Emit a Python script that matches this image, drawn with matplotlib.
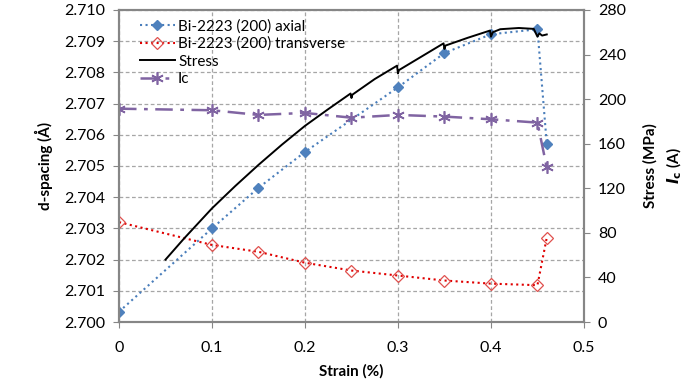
import matplotlib.pyplot as plt

plt.rcParams['font.family'] = ['Lato', 'DejaVu Sans']

# strain points for the diffraction / Ic data (%)
strain = [0, 0.1, 0.15, 0.2, 0.25, 0.3, 0.35, 0.4, 0.45, 0.46]
axial = [2.70033, 2.70300, 2.70430, 2.70545, None, 2.70752, 2.70862, 2.70922, 2.70938, 2.70571]
transverse = [2.70320, 2.70247, 2.70225, 2.70190, 2.70165, 2.70149, 2.70133, 2.70123, 2.70118, 2.70270]
ic = [191.4, 190.0, 185.8, 187.6, 183.3, 185.8, 184.3, 181.9, 178.9, 138.8]

# stress-strain curve (MPa)
stress_strain = [0.05, 0.07, 0.1, 0.125, 0.15, 0.175, 0.2, 0.225, 0.249, 0.25, 0.251, 0.275, 0.299,
                 0.3, 0.301, 0.325, 0.349, 0.35, 0.351, 0.375, 0.399, 0.4, 0.402, 0.41, 0.43,
                 0.446, 0.45, 0.452, 0.455, 0.46]
stress = [56, 75, 102, 122, 141, 159, 176, 191, 205, 201, 204, 218, 230,
          223, 226, 238, 250, 245, 248, 255, 261.5, 256, 260, 262.7, 263.8,
          263, 256, 259, 257, 258]

ax_strain = [s for s, a in zip(strain, axial) if a is not None]
ax_vals = [a for a in axial if a is not None]

gray = '#868686'

fig = plt.figure(figsize=(6.96, 3.82), dpi=100)
ax = fig.add_axes([0.171, 0.157, 0.668, 0.817])
ax2 = ax.twinx()

l1, = ax.plot(ax_strain, ax_vals, linestyle=':', color='#4A7EBB', lw=1.5,
              marker='D', ms=5, mfc='#4F81BD', mec='#4F81BD', label='Bi-2223 (200) axial')
l2, = ax.plot(strain, transverse, linestyle=':', color='#E00000', lw=1.5,
              marker='D', ms=6, mfc='none', mec='#E0504D', mew=0.9, label='Bi-2223 (200) transverse')
l3, = ax2.plot(stress_strain, stress, color='black', lw=1.4, label='Stress')
l4, = ax2.plot(strain, ic, color='#8064A2', lw=1.8, dashes=(7, 3, 1.5, 3),
               marker=(6, 2, 0), ms=9, mew=1.2, mec='#8064A2', label='Ic')

ax.set_xlim(0, 0.5)
ax.set_ylim(2.700, 2.710)
ax.set_xticks([0, 0.1, 0.2, 0.3, 0.4, 0.5])
ax.set_xticklabels(['0', '0.1', '0.2', '0.3', '0.4', '0.5'])
ax.set_yticks([2.700 + 0.001 * i for i in range(11)])
ax.set_yticklabels(['%.3f' % (2.700 + 0.001 * i) for i in range(11)])
ax2.set_ylim(0, 280)
ax2.set_yticks(range(0, 281, 40))

ax.grid(True, color='#A6A6A6', linestyle=(0, (3, 2)), lw=0.9)
ax.set_axisbelow(True)

for a in (ax, ax2):
    for sp in a.spines.values():
        sp.set_color(gray)
        sp.set_linewidth(1.5)
    a.tick_params(direction='out', length=4, color=gray, labelsize=11.5, pad=6)
ax.tick_params(axis='x', pad=10)

ax.set_xlabel('Strain (%)', fontsize=11, fontweight='bold', labelpad=6)
ax.set_ylabel('d-spacing (Å)', fontsize=11, fontweight='bold', labelpad=8)
ax2.set_ylabel('Stress (MPa)\n$\\mathbfit{I}_\\mathbf{c}$ (A)', fontsize=11, fontweight='bold',
               labelpad=12, linespacing=1.5)

ax.legend(handles=[l1, l2, l3, l4], loc='upper left', frameon=False, fontsize=11,
          handlelength=2.3, handletextpad=0.2, labelspacing=0.22,
          borderaxespad=0.2, bbox_to_anchor=(0.025, 1.0))

fig.savefig('out.png', dpi=100)
